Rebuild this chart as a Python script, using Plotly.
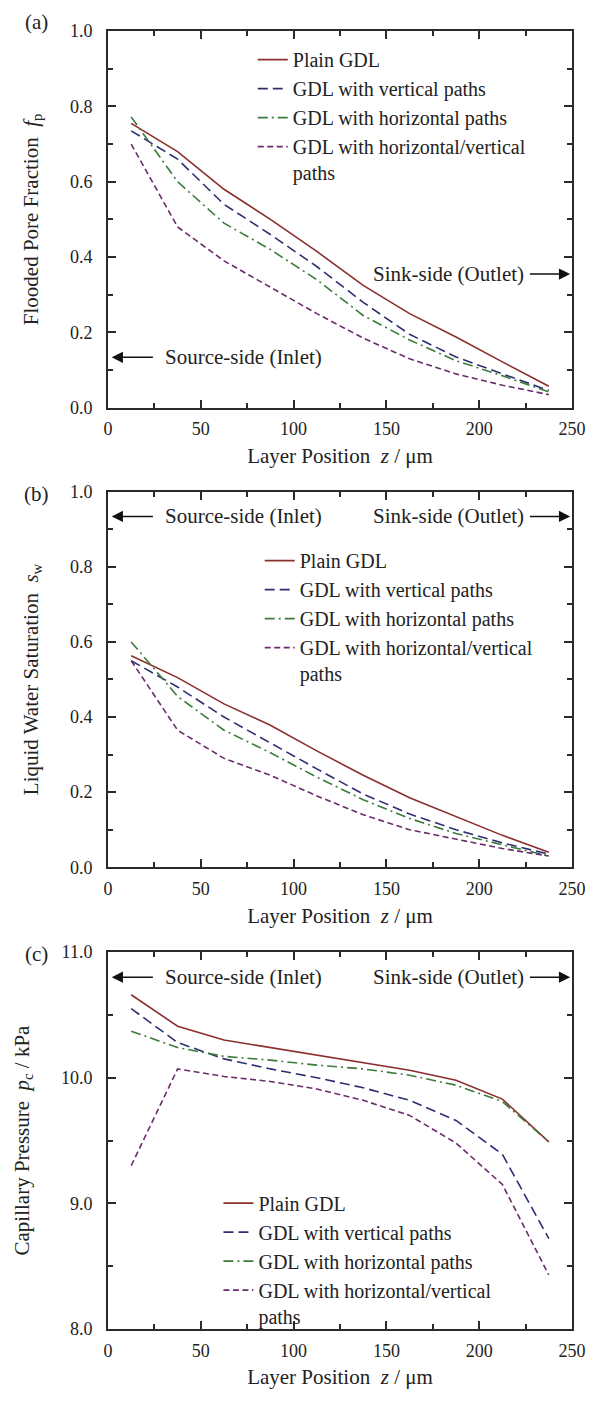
import plotly.graph_objects as go

# ---------------- data ----------------
z_um = [12.5, 37.5, 62.5, 87.5, 112.5, 137.5, 162.5, 187.5, 212.5, 237.5]

series_names = ["Plain GDL", "GDL with vertical paths", "GDL with horizontal paths",
                "GDL with horizontal/vertical<br>paths"]

# (a) flooded pore fraction f_p
fp_plain = [0.755, 0.680, 0.580, 0.500, 0.415, 0.325, 0.250, 0.188, 0.122, 0.057]
fp_vert = [0.735, 0.660, 0.540, 0.460, 0.375, 0.280, 0.195, 0.135, 0.090, 0.046]
fp_horiz = [0.772, 0.600, 0.490, 0.420, 0.340, 0.245, 0.180, 0.125, 0.085, 0.042]
fp_hv = [0.700, 0.480, 0.390, 0.320, 0.250, 0.185, 0.130, 0.090, 0.060, 0.035]

# (b) liquid water saturation s_w
sw_plain = [0.563, 0.505, 0.435, 0.378, 0.310, 0.245, 0.185, 0.135, 0.085, 0.040]
sw_vert = [0.550, 0.480, 0.400, 0.330, 0.262, 0.195, 0.142, 0.100, 0.065, 0.035]
sw_horiz = [0.600, 0.455, 0.365, 0.305, 0.240, 0.180, 0.130, 0.090, 0.060, 0.030]
sw_hv = [0.550, 0.365, 0.290, 0.245, 0.190, 0.140, 0.100, 0.075, 0.050, 0.030]

# (c) capillary pressure p_c / kPa
pc_plain = [10.66, 10.41, 10.30, 10.24, 10.18, 10.12, 10.06, 9.98, 9.83, 9.49]
pc_vert = [10.55, 10.28, 10.15, 10.07, 10.00, 9.92, 9.82, 9.66, 9.39, 8.72]
pc_horiz = [10.37, 10.24, 10.17, 10.14, 10.10, 10.07, 10.02, 9.94, 9.81, 9.49]
pc_hv = [9.30, 10.07, 10.01, 9.97, 9.91, 9.82, 9.70, 9.48, 9.15, 8.43]

x_ticks = [0, 50, 100, 150, 200, 250]

# ---------------- styles ----------------
colors = ["#8B2E2E", "#2C2F72", "#3C7B3C", "#6A2C6A"]
dashes = ["solid", "10px,5px", "10px,4px,2px,4px", "6px,3.5px"]
FONT = "Liberation Serif, Times New Roman, serif"
AX = "#2a2a2a"

fig = go.Figure()

panels = [
    ([fp_plain, fp_vert, fp_horiz, fp_hv], "x", "y", "legend"),
    ([sw_plain, sw_vert, sw_horiz, sw_hv], "x2", "y2", "legend2"),
    ([pc_plain, pc_vert, pc_horiz, pc_hv], "x3", "y3", "legend3"),
]
for vals, xa, ya, lg in panels:
    for i, v in enumerate(vals):
        fig.add_trace(go.Scatter(
            x=z_um, y=v, mode="lines", name=series_names[i],
            line=dict(color=colors[i], width=1.6, dash=dashes[i]),
            xaxis=xa, yaxis=ya, legend=lg, showlegend=True))

# domains (paper fraction, bottom=0)
dom_a = [0.7097, 1.0]
dom_b = [0.3557, 0.6451]
dom_c = [0.0, 0.2904]

def xaxis(anchor):
    return dict(
        domain=[0, 1], range=[0, 250], anchor=anchor,
        tickvals=x_ticks, ticks="inside", ticklen=8, tickwidth=1.5, tickcolor=AX,
        minor=dict(dtick=25, tick0=0, ticks="inside", ticklen=5, tickwidth=1.5, tickcolor=AX),
        showline=True, linecolor=AX, linewidth=2, mirror="allticks",
        showgrid=False, zeroline=False,
        tickfont=dict(family=FONT, size=18, color="#222"),
        ticklabelstandoff=4,
        title=dict(text="Layer Position\u00a0\u00a0<i>z</i> / \u03bcm",
                   font=dict(family=FONT, size=21, color="#222"), standoff=10),
    )

def yaxis(anchor, dom, rng, dtick, mdt, title):
    return dict(
        domain=dom, range=rng, anchor=anchor, dtick=dtick, tick0=rng[0],
        tickformat=".1f",
        ticks="inside", ticklen=8, tickwidth=1.5, tickcolor=AX,
        minor=dict(dtick=mdt, ticks="inside", ticklen=5, tickwidth=1.5, tickcolor=AX),
        showline=True, linecolor=AX, linewidth=2, mirror="allticks",
        showgrid=False, zeroline=False,
        tickfont=dict(family=FONT, size=18, color="#222"),
        ticklabelstandoff=10,
        title=dict(text=title, font=dict(family=FONT, size=21, color="#222"), standoff=26),
    )

legend_common = dict(
    font=dict(family=FONT, size=20, color="#222"),
    bgcolor="rgba(0,0,0,0)", borderwidth=0, xanchor="left", yanchor="top",
    tracegroupgap=0, itemwidth=30, valign="top",
)

fig.update_layout(
    width=590, height=1389,
    margin=dict(l=94, r=18, t=23, b=49),
    paper_bgcolor="white", plot_bgcolor="white",
    xaxis=xaxis("y"),
    xaxis2=xaxis("y2"),
    xaxis3=xaxis("y3"),
    yaxis=yaxis("x", dom_a, [0, 1], 0.2, 0.1,
                "Flooded Pore Fraction\u00a0\u00a0<i>f</i><sub>p</sub>"),
    yaxis2=yaxis("x2", dom_b, [0, 1], 0.2, 0.1,
                 "Liquid Water Saturation\u00a0\u00a0<i>s</i><sub>w</sub>"),
    yaxis3=yaxis("x3", dom_c, [8, 11], 1.0, 0.5,
                  "Capillary Pressure\u00a0\u00a0<i>p</i><sub>c</sub> / kPa"),
    legend=dict(x=0.312, y=0.993, **legend_common),
    legend2=dict(x=0.327, y=0.607, **legend_common),
    legend3=dict(x=0.238, y=0.112, **legend_common),
)

# direction annotations
ann_font = dict(family=FONT, size=21, color="#222")
side_pos = [("x", "y", 0.134, 0.355), ("x2", "y2", 0.934, 0.934), ("x3", "y3", 10.80, 10.80)]
for xa, ya, y_src, y_snk in side_pos:
    # source side
    fig.add_annotation(x=2.0, y=y_src, ax=25, ay=y_src, xref=xa, yref=ya, axref=xa, ayref=ya,
                       text="", showarrow=True, arrowhead=2, arrowsize=1.4, arrowwidth=1.6,
                       arrowcolor="#111")
    fig.add_annotation(x=29.5, y=y_src, xref=xa, yref=ya, text="Source-side (Inlet)",
                       showarrow=False, xanchor="left", yanchor="middle", font=ann_font)
    # sink side
    fig.add_annotation(x=249.0, y=y_snk, ax=226.5, ay=y_snk, xref=xa, yref=ya, axref=xa, ayref=ya,
                       text="", showarrow=True, arrowhead=2, arrowsize=1.4, arrowwidth=1.6,
                       arrowcolor="#111")
    fig.add_annotation(x=225, y=y_snk, xref=xa, yref=ya, text="Sink-side (Outlet)",
                       showarrow=False, xanchor="right", yanchor="middle", font=ann_font)

# panel labels
for lab, ya, dy in [("(a)", "y domain", 9), ("(b)", "y2 domain", -2), ("(c)", "y3 domain", -2)]:
    fig.add_annotation(x=-0.155, y=1, xref="paper", yref=ya, yshift=dy,
                       text=lab, showarrow=False, xanchor="center", yanchor="middle",
                       font=dict(family=FONT, size=21, color="#222"))

fig.write_html("out.html")
